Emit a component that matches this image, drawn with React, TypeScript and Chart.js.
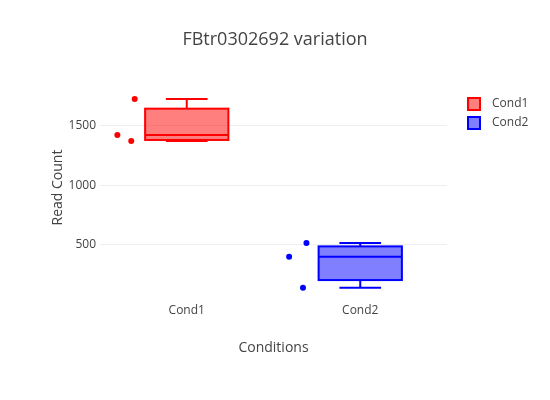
import React, { useEffect, useRef } from 'react';
import { Chart, registerables } from 'chart.js';

Chart.register(...registerables);

const categories = ['Cond1', 'Cond2'];
const colors = ['rgb(255,0,0)', 'rgb(0,0,255)'];
const fills = ['rgba(255,0,0,0.5)', 'rgba(0,0,255,0.5)'];
const points = [
  [1420, 1370, 1720],
  [400, 140, 515],
];
const jitter = [
  [-0.4, -0.32, -0.3],
  [-0.41, -0.33, -0.31],
];
// [min, q1, median, q3, max]
const boxStats = [
  [1370, 1378, 1420, 1640, 1720],
  [140, 205, 400, 487, 515],
];
const yTicks = [500, 1000, 1500];

const FONT = '"Open Sans", sans-serif';

const boxPlugin = {
  id: 'boxes',
  beforeDatasetsDraw(chart: any) {
    const { ctx, scales } = chart;
    const x = scales.x, y = scales.y;
    const hw = 0.24;
    boxStats.forEach((s, i) => {
      const l = x.getPixelForValue(i - hw), r = x.getPixelForValue(i + hw);
      const c = x.getPixelForValue(i);
      const wl = x.getPixelForValue(i - hw / 2), wr = x.getPixelForValue(i + hw / 2);
      const [mn, q1, md, q3, mx] = s.map((v) => y.getPixelForValue(v));
      ctx.save();
      ctx.strokeStyle = colors[i];
      ctx.lineWidth = 2;
      ctx.fillStyle = fills[i];
      ctx.fillRect(l, q3, r - l, q1 - q3);
      ctx.strokeRect(l, q3, r - l, q1 - q3);
      ctx.beginPath();
      ctx.moveTo(l, md); ctx.lineTo(r, md);
      ctx.moveTo(c, q3); ctx.lineTo(c, mx);
      ctx.moveTo(c, q1); ctx.lineTo(c, mn);
      ctx.moveTo(wl, mx); ctx.lineTo(wr, mx);
      ctx.moveTo(wl, mn); ctx.lineTo(wr, mn);
      ctx.stroke();
      ctx.restore();
    });
  },
  afterDraw(chart: any) {
    const { ctx } = chart;
    ctx.save();
    ctx.fillStyle = '#444';
    ctx.font = `18px ${FONT}`;
    ctx.textAlign = 'center';
    ctx.textBaseline = 'middle';
    ctx.fillText('FBtr0302692 variation', 275, 40);
    ctx.font = `12px ${FONT}`;
    ctx.textAlign = 'left';
    categories.forEach((name, i) => {
      const yy = 104 + i * 19;
      ctx.fillStyle = fills[i];
      ctx.strokeStyle = colors[i];
      ctx.lineWidth = 2;
      ctx.fillRect(468, yy - 6, 12, 12);
      ctx.strokeRect(468, yy - 6, 12, 12);
      ctx.fillStyle = '#444';
      ctx.fillText(name, 492, yy);
    });
    ctx.restore();
  },
};

export default function App() {
  const chartRef = useRef<HTMLCanvasElement>(null);

  useEffect(() => {
    document.body.style.margin = '0';
    if (!chartRef.current) return;
    const chart = new Chart(chartRef.current, {
      type: 'scatter',
      data: {
        datasets: categories.map((name, i) => ({
          label: name,
          data: points[i].map((v, j) => ({ x: i + jitter[i][j], y: v })),
          backgroundColor: colors[i],
          borderWidth: 0,
          pointRadius: 3,
        })),
      },
      plugins: [boxPlugin],
      options: {
        responsive: false,
        animation: false,
        layout: { padding: { left: 46, right: 103, top: 80, bottom: 40 } },
        plugins: { legend: { display: false }, tooltip: { enabled: false } },
        scales: {
          x: {
            type: 'linear',
            min: -0.5,
            max: 1.5,
            afterBuildTicks: (s: any) => { s.ticks = [{ value: 0 }, { value: 1 }]; },
            afterFit: (s: any) => { s.height = 65; },
            grid: { display: false },
            border: { display: false },
            ticks: {
              color: '#444',
              font: { family: FONT, size: 12 },
              padding: 0,
              callback: (v: any) => categories[v] ?? '',
            },
            title: { display: true, text: 'Conditions', color: '#444', font: { family: FONT, size: 14 } },
          },
          y: {
            min: 80,
            max: 1880,
            afterBuildTicks: (s: any) => { s.ticks = yTicks.map((v) => ({ value: v })); },
            afterFit: (s: any) => { s.width = 54; },
            grid: { color: '#eee', drawTicks: false },
            border: { display: false },
            ticks: {
              color: '#444',
              font: { family: FONT, size: 12 },
              padding: 4,
              callback: (v: any) => String(v),
            },
            title: { display: true, text: 'Read Count', color: '#444', font: { family: FONT, size: 14 } },
          },
        },
      },
    });
    return () => chart.destroy();
  }, []);

  return <canvas ref={chartRef} width={550} height={400} />;
}
